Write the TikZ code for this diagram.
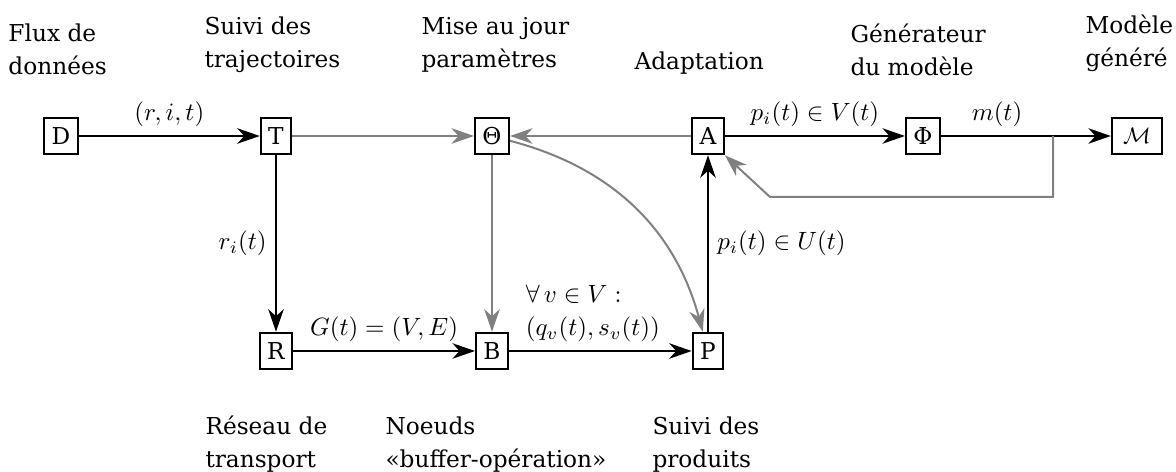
\documentclass[tikz,border=0pt]{standalone}
\usepackage{fontspec}
\setmainfont{DejaVu Serif}
\usetikzlibrary{arrows.meta}
\definecolor{gline}{gray}{0.5}
\tikzset{
  box/.style={draw, line width=0.8pt, minimum height=14.6pt, inner sep=3pt, font=\fontsize{9.3}{12}\selectfont},
  conn/.style={line width=0.8pt, -{Stealth[length=9pt,width=6.2pt,inset=2.8pt]}},
  bconn/.style={conn, black},
  gconn/.style={conn, gline},
  lab/.style={anchor=base west, align=left, inner sep=0pt, font=\fontsize{9.3}{13.2}\selectfont},
  elab/.style={font=\fontsize{10}{13.2}\selectfont}
}
\begin{document}
\begin{tikzpicture}[x=0.4pt, y=-0.4pt]
\useasboundingbox (0,0) rectangle (1176,472);
% boxes
\node[box] (D) at (61,136) {D};
\node[box] (T) at (276,136) {T};
\node[box] (Th) at (492,136) {Θ};
\node[box] (A) at (708,136) {A};
\node[box] (Ph) at (923,136) {Φ};
\node[box, inner xsep=4.5pt] (M) at (1137,136) {$\mathcal{M}$};
\node[box] (R) at (276,351) {R};
\node[box] (B) at (492,351) {B};
\node[box] (P) at (708,351) {P};
\coordinate (fb) at (1053,136);
\coordinate (fb2) at (1053,197);
\coordinate (fb3) at (770,197);
% labels (anchor = baseline of last line)
\node[lab] (lD) at (8,75) {Flux de\\données};
\node[lab] (lT) at (204,68) {Suivi des\\trajectoires};
\node[lab] (lTh) at (421,68) {Mise au jour\\paramètres};
\node[lab] (lA) at (634,70) {Adaptation};
\node[lab] (lPh) at (850,76) {Générateur\\du modèle};
\node[lab] (lM) at (1085,67) {Modèle\\généré};
\node[lab] (lR) at (205,468) {Réseau de\\transport};
\node[lab] (lB) at (385,468) {Noeuds\\«buffer-opération»};
\node[lab] (lP) at (652,468) {Suivi des\\produits};
% connectors
\draw[bconn] (D) -- node[elab, above] {$(r,i,t)$} (T);
\draw[gconn] (T) -- (Th);
\draw[gconn] (A) -- (Th);
\draw[bconn] (A) -- node[elab, above] {$p_i(t)\in V(t)$} (Ph);
\draw[line width=0.8pt] (Ph) -- node[elab, above] {$m(t)$} (fb);
\draw[bconn] (fb) -- (M);
\draw[gconn] (fb) -- (fb2) -- (fb3) -- (A.south east);
\draw[bconn] (T) -- node[elab, left] {$r_i(t)$} (R);
\draw[gconn] (Th) -- (B);
\draw[gconn] (Th) to[bend left=30] (P);
\draw[bconn] (R) -- node[elab, above] {$G(t)=(V,E)$} (B);
\draw[bconn] (B) -- node[elab, above, align=left, xshift=-3pt] {$\forall\, v\in V:$\\$(q_v(t),s_v(t))$} (P);
\draw[bconn] (P) -- node[elab, right] {$p_i(t)\in U(t)$} (A);
\end{tikzpicture}
\end{document}
